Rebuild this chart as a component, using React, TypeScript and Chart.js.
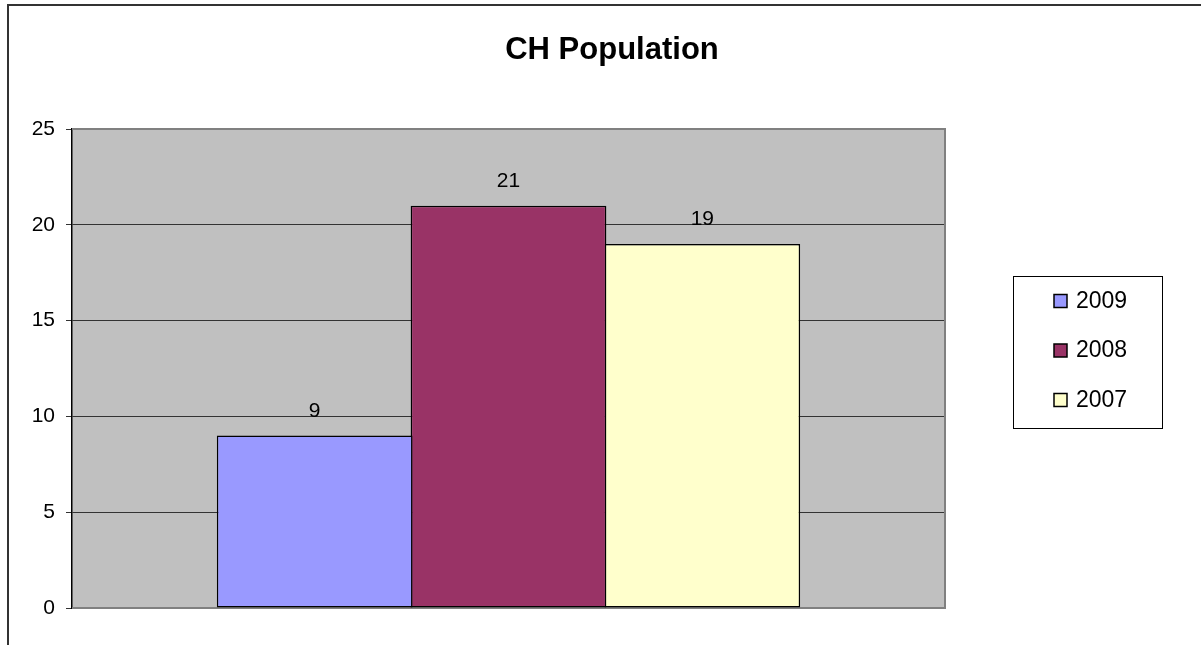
import React, { useEffect, useRef } from "react";
import { Chart, registerables } from "chart.js";

Chart.register(...registerables);

const categories = [""];
const seriesLabels = ["2009", "2008", "2007"];
const values2009 = [9];
const values2008 = [21];
const values2007 = [19];
const seriesColors = ["#9999FF", "#993366", "#FFFFCC"];
const yTicks = [0, 5, 10, 15, 20, 25];
const chartTitle = "CH Population";

const FONT = "'Liberation Sans', Arial, sans-serif";

const decorPlugin = {
  id: "decor",
  beforeDraw(chart: any) {
    const { ctx, chartArea: a } = chart;
    ctx.save();
    ctx.fillStyle = "#ffffff";
    ctx.fillRect(0, 0, chart.width, chart.height);
    ctx.fillStyle = "#C0C0C0";
    ctx.fillRect(a.left, a.top, a.right - a.left, a.bottom - a.top);
    ctx.restore();
  },
  beforeDatasetsDraw(chart: any) {
    const { ctx, chartArea: a } = chart;
    ctx.save();
    ctx.strokeStyle = "#808080";
    ctx.lineWidth = 2;
    ctx.beginPath();
    ctx.moveTo(a.left, a.top);
    ctx.lineTo(a.right, a.top);
    ctx.lineTo(a.right, a.bottom);
    ctx.lineTo(a.left, a.bottom);
    ctx.stroke();
    ctx.restore();
  },
  afterDatasetsDraw(chart: any) {
    const { ctx } = chart;
    ctx.save();
    ctx.fillStyle = "#000";
    ctx.font = `21px ${FONT}`;
    ctx.textAlign = "center";
    ctx.textBaseline = "alphabetic";
    chart.data.datasets.forEach((ds: any, i: number) => {
      const meta = chart.getDatasetMeta(i);
      meta.data.forEach((el: any, j: number) => {
        ctx.fillText(String(ds.data[j]), el.x, el.y - 19);
      });
    });
    ctx.restore();
  },
  afterDraw(chart: any) {
    const { ctx } = chart;
    ctx.save();
    // outer frame
    ctx.strokeStyle = "#333";
    ctx.lineWidth = 2;
    ctx.beginPath();
    ctx.moveTo(8, chart.height + 5);
    ctx.lineTo(8, 5);
    ctx.lineTo(chart.width + 5, 5);
    ctx.stroke();
    // title
    ctx.fillStyle = "#000";
    ctx.font = `bold 31px ${FONT}`;
    ctx.textAlign = "center";
    ctx.textBaseline = "alphabetic";
    ctx.fillText(chartTitle, 612, 59);
    // legend
    ctx.fillStyle = "#fff";
    ctx.fillRect(1013.5, 276.5, 149, 152);
    ctx.strokeStyle = "#000";
    ctx.lineWidth = 1;
    ctx.strokeRect(1013.5, 276.5, 149, 152);
    ctx.font = `23px ${FONT}`;
    ctx.textAlign = "left";
    chart.data.datasets.forEach((ds: any, i: number) => {
      const base = 307.5 + i * 49.5;
      ctx.fillStyle = ds.backgroundColor;
      ctx.fillRect(1054, base - 13, 13, 13);
      ctx.lineWidth = 1.5;
      ctx.strokeStyle = "#000";
      ctx.strokeRect(1054, base - 13, 13, 13);
      ctx.fillStyle = "#000";
      ctx.fillText(ds.label, 1076, base);
    });
    ctx.restore();
  },
};

export default function App() {
  const ref = useRef<HTMLCanvasElement | null>(null);
  useEffect(() => {
    if (!ref.current) return;
    const seriesData = [values2009, values2008, values2007];
    const chart = new Chart(ref.current, {
      type: "bar",
      data: {
        labels: categories,
        datasets: seriesLabels.map((label, i) => ({
          label,
          data: seriesData[i],
          backgroundColor: seriesColors[i],
          borderColor: "#000",
          borderWidth: 1.5,
          borderSkipped: false,
          categoryPercentage: 0.666,
          barPercentage: 1.01,
        })),
      },
      options: {
        responsive: false,
        animation: false,
        layout: { padding: { left: 0, top: 129, right: 256, bottom: 37 } },
        plugins: {
          legend: { display: false },
          title: { display: false },
          tooltip: { enabled: false },
        },
        scales: {
          x: { display: false },
          y: {
            min: yTicks[0],
            max: yTicks[yTicks.length - 1],
            afterFit(scale: any) {
              scale.width = 72;
            },
            afterBuildTicks(scale: any) {
              scale.ticks = yTicks.map((v) => ({ value: v }));
            },
            ticks: {
              stepSize: 5,
              color: "#000",
              font: { size: 21, family: FONT },
              padding: 11,
            },
            grid: {
              color: "#333",
              lineWidth: 1,
              tickLength: 6,
              drawTicks: true,
            },
            border: { display: true, color: "#000", width: 1.5 },
          },
        },
      },
      plugins: [decorPlugin],
    });
    return () => chart.destroy();
  }, []);
  return (
    <div style={{ position: "fixed", left: 0, top: 0, width: 1201, height: 645 }}>
      <canvas ref={ref} width={1201} height={645} style={{ display: "block" }} />
    </div>
  );
}
